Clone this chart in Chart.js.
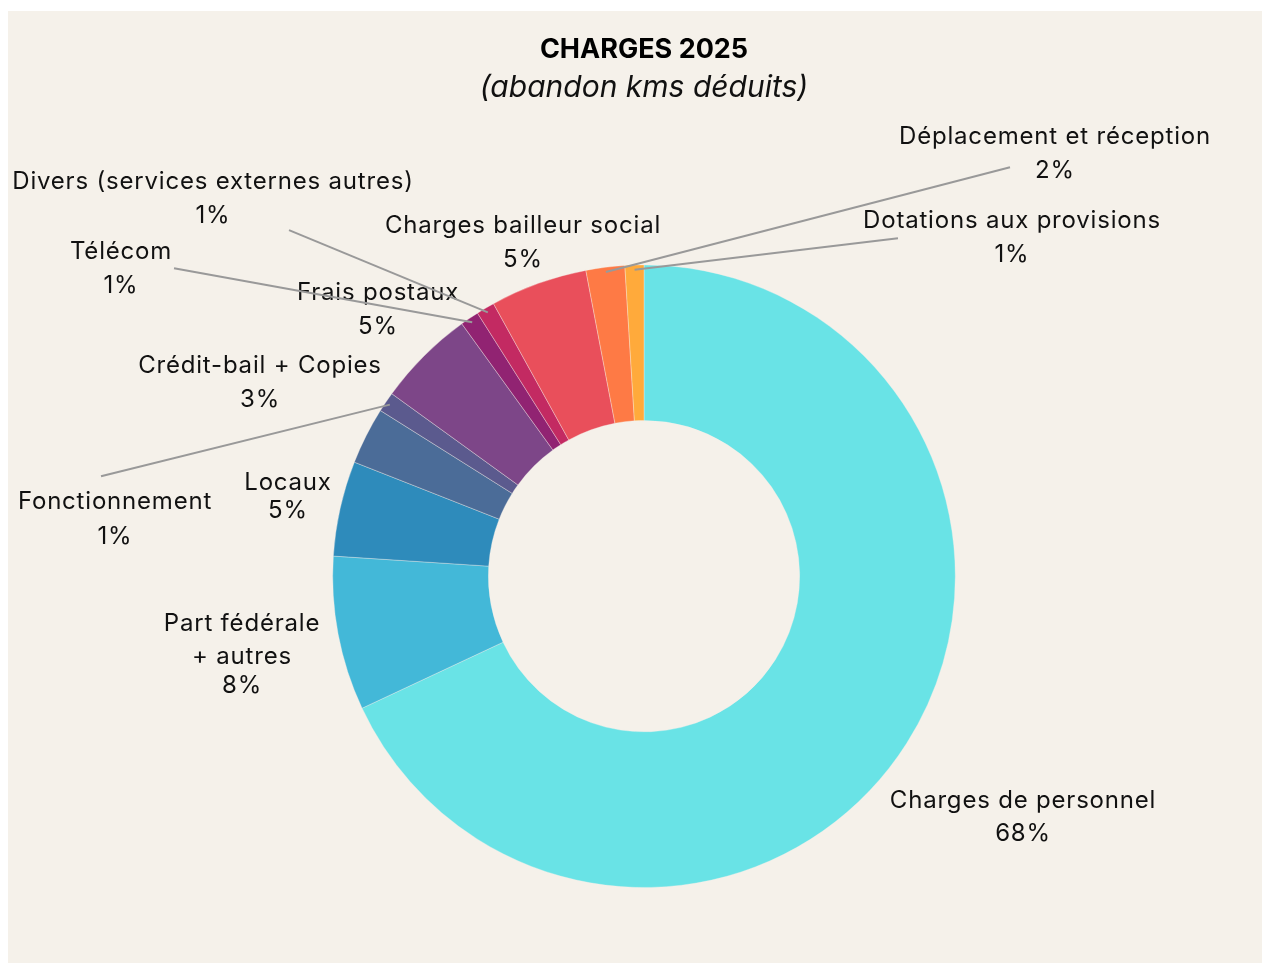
<!DOCTYPE html>
<html lang="fr">
<head>
<meta charset="utf-8">
<title>Charges 2025</title>
<script src="https://cdn.jsdelivr.net/npm/chart.js@4.4.1/dist/chart.umd.min.js"></script>
<style>
  html, body { margin: 0; padding: 0; background: #ffffff; }
  #card {
    position: absolute;
    left: 8px; top: 11px;
    width: 1254px; height: 952px;
    background: #f5f1ea;
  }
</style>
</head>
<body>
<div id="card">
  <canvas id="chargesChart"></canvas>
</div>
<script>
// categories, in clockwise order from 12 o'clock
const categories = [
  "Charges de personnel",
  "Part fédérale + autres",
  "Locaux",
  "Crédit-bail + Copies",
  "Fonctionnement",
  "Frais postaux",
  "Télécom",
  "Divers (services externes autres)",
  "Charges bailleur social",
  "Déplacement et réception",
  "Dotations aux provisions",
];

// share of total charges (%)
const shares = [68.03, 8.0, 4.94, 2.96, 1.04, 5.08, 0.97, 0.95, 5.04, 2.01, 0.98];

const sliceColors = [
  "#69e3e6", "#43b8d8", "#2e8bbb", "#4b6c98", "#5b5a8e", "#7d4688",
  "#912372", "#c32a62", "#e94f5b", "#fe7a45", "#ffaa3b",
];

// how each label is broken into lines (the % line is added after)
const labelLines = [
  ["Charges de personnel"],
  ["Part fédérale", "+ autres"],
  ["Locaux"],
  ["Crédit-bail + Copies"],
  ["Fonctionnement"],
  ["Frais postaux"],
  ["Télécom"],
  ["Divers (services externes autres)"],
  ["Charges bailleur social"],
  ["Déplacement et réception"],
  ["Dotations aux provisions"],
];

// label placement relative to the doughnut centre: first line centre,
// gaps between lines, and where the leader line starts (null = no line)
const labelSpots = [
  { dx: 379, dy: 225, gaps: [33], lead: null },
  { dx: -402, dy: 48, gaps: [33, 29], lead: null },
  { dx: -356, dy: -93, gaps: [28], lead: null },
  { dx: -384, dy: -210, gaps: [34], lead: null },
  { dx: -529, dy: -74, gaps: [35], lead: [-543, -100] },
  { dx: -266, dy: -283, gaps: [34], lead: null },
  { dx: -523, dy: -324, gaps: [34], lead: [-470, -308] },
  { dx: -431, dy: -394, gaps: [34], lead: [-355, -346] },
  { dx: -121, dy: -350, gaps: [34], lead: null },
  { dx: 411, dy: -439, gaps: [34], lead: [366, -409] },
  { dx: 368, dy: -355, gaps: [34], lead: [254, -338] },
];

const labelFont = "24px Inter";

const total = shares.reduce((a, b) => a + b, 0);

const outsideLabels = {
  id: "outsideLabels",
  afterDatasetsDraw(chart) {
    const ctx = chart.ctx;
    const meta = chart.getDatasetMeta(0);
    ctx.save();
    meta.data.forEach((arc, i) => {
      const spot = labelSpots[i];
      const cx = arc.x, cy = arc.y;
      const pct = Math.round(shares[i] / total * 100) + "%";
      const lines = labelLines[i].concat([pct]);

      ctx.font = labelFont;
      ctx.letterSpacing = "0.8px";
      ctx.fillStyle = "#111111";
      ctx.textAlign = "center";
      ctx.textBaseline = "middle";
      let y = cy + spot.dy;
      lines.forEach((line, k) => {
        ctx.fillText(line, cx + spot.dx, y);
        y += spot.gaps[Math.min(k, spot.gaps.length - 1)];
      });

      if (spot.lead) {
        const mid = (arc.startAngle + arc.endAngle) / 2;
        const r = arc.outerRadius * 0.985;
        ctx.beginPath();
        ctx.moveTo(cx + spot.lead[0], cy + spot.lead[1]);
        ctx.lineTo(cx + Math.cos(mid) * r, cy + Math.sin(mid) * r);
        ctx.strokeStyle = "#999999";
        ctx.lineWidth = 2;
        ctx.stroke();
      }
    });
    ctx.restore();
  },
};

function createChargesChart() {
  const data = {
    labels: categories,
    datasets: [
      {
        data: shares,
        backgroundColor: sliceColors,
        borderColor: "rgba(245, 241, 234, 0.35)",
        borderWidth: 1,
      },
    ],
  };

  const config = {
    type: "doughnut",
    data: data,
    plugins: [outsideLabels],
    options: {
      responsive: true,
      maintainAspectRatio: false,
      animation: false,
      cutout: "50%",
      layout: {
        padding: { left: 30, right: 12, top: 0, bottom: 75 },
      },
      plugins: {
        legend: { display: false },
        tooltip: { enabled: false },
        title: {
          display: true,
          text: "CHARGES 2025",
          color: "#000000",
          font: { family: "Inter", size: 27, weight: "bold" },
          padding: { top: 23, bottom: 2 },
        },
        subtitle: {
          display: true,
          text: "(abandon kms déduits)",
          color: "#111111",
          font: { family: "Inter", size: 30, style: "italic" },
          padding: { top: 2, bottom: 158 },
        },
      },
    },
  };

  const ctx = document.getElementById("chargesChart");
  new Chart(ctx, config);
}

document.addEventListener("DOMContentLoaded", () => {
  createChargesChart();
});
</script>
</body>
</html>
